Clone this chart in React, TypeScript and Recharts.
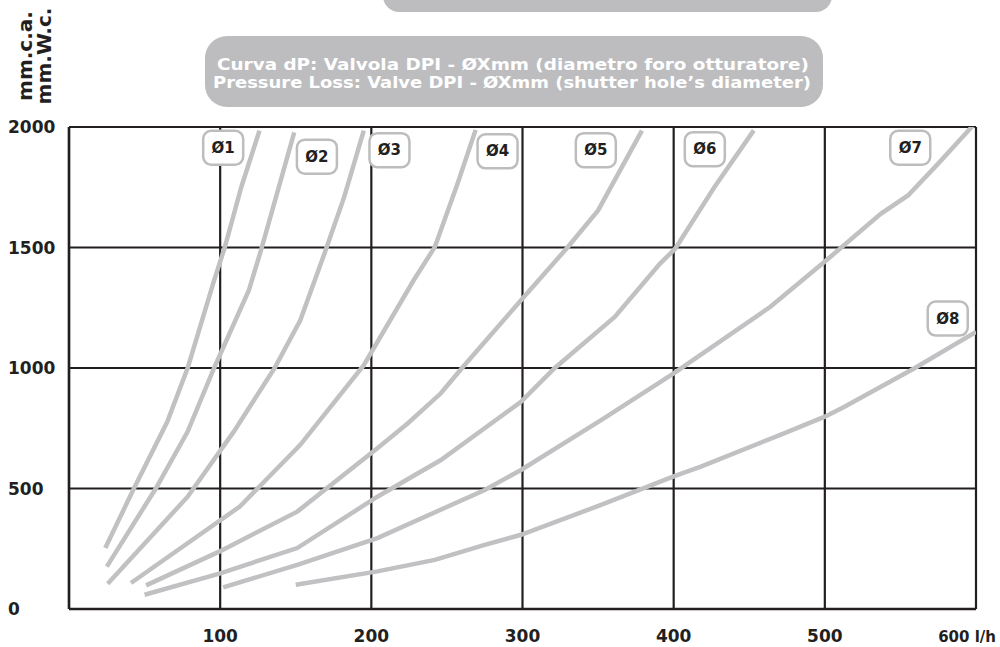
import { CartesianGrid, Line, LineChart, ReferenceDot, XAxis, YAxis } from "recharts";

// flow (l/h) vs pressure loss (mm.c.a.) for each shutter hole diameter
const curve1 = [[24, 253], [43, 501], [65, 777], [78.5, 1000], [96, 1364], [103, 1500], [114, 1751], [126, 1985]];
const curve2 = [[25, 176], [57.5, 501], [78.5, 736], [96, 1000], [119, 1323], [127, 1488], [149, 1978]];
const curve3 = [[25.6, 105], [78.5, 466], [109, 736], [136, 1000], [153, 1198], [169, 1475], [182, 1709], [195, 1985]];
const curve4 = [[41, 108], [113, 425], [153, 681], [195, 1012], [228, 1364], [242, 1502], [257, 1765], [269, 1988]];
const curve5 = [[51, 98], [100, 240], [151, 404], [204, 667], [224, 770], [246, 895], [260, 1000], [299, 1281], [330, 1502], [350, 1654], [379, 1985]];
const curve6 = [[50, 59], [100, 148], [151, 253], [204, 466], [246, 618], [299, 860], [321, 998], [361, 1212], [391, 1433], [401, 1495], [427, 1751], [453, 1986]];
const curve7 = [[102, 90], [151, 183], [204, 294], [275, 494], [299, 577], [352, 784], [400, 978], [464, 1254], [501, 1447], [537, 1640], [555, 1716], [575, 1848], [598, 2006]];
const curve8 = [[150, 101], [204, 156], [242, 204], [275, 266], [299, 308], [352, 432], [400, 550], [418, 591], [473, 729], [500, 798], [513, 839], [559, 998], [600, 1150]];

const curves = [curve1, curve2, curve3, curve4, curve5, curve6, curve7, curve8];

const labelNames = ["Ø1", "Ø2", "Ø3", "Ø4", "Ø5", "Ø6", "Ø7", "Ø8"];
const labelX = [102, 164, 212, 283.5, 348.5, 420.6, 556.5, 581.3];
const labelY = [1914, 1877, 1904, 1899, 1904, 1908, 1914, 1205];

const xTicks = [100, 200, 300, 400, 500, 600];
const yTicks = [0, 500, 1000, 1500, 2000];

const titleLines = [
  "Curva dP: Valvola DPI - ØXmm (diametro foro otturatore)",
  "Pressure Loss: Valve DPI - ØXmm (shutter hole’s diameter)",
];
const unitLines = ["mm.c.a.", "mm.W.c."];

const FONT = "DejaVu Sans";
const INK = "#231f20";
const CURVE = "#c1c1c3";

function XTick(props: any) {
  const { x, y, payload } = props;
  const last = payload.value === 600;
  return (
    <text
      x={last ? x + 20 : x}
      y={y + 25}
      textAnchor={last ? "end" : "middle"}
      fontFamily={FONT}
      fontWeight="bold"
      fontSize={last ? 15 : 17}
      fill={INK}
    >
      {last ? "600 l/h" : payload.value}
    </text>
  );
}

function YTick(props: any) {
  const { y, payload } = props;
  return (
    <text x={8} y={y + 6} textAnchor="start" fontFamily={FONT} fontWeight="bold" fontSize={17} fill={INK}>
      {payload.value}
    </text>
  );
}

function LabelBox(name: string) {
  return (props: any) => (
    <g>
      <rect
        x={props.cx - 20}
        y={props.cy - 17}
        width={40}
        height={34}
        rx={8}
        fill="#fff"
        stroke="#bdbdbd"
        strokeWidth={2.5}
      />
      <text
        x={props.cx}
        y={props.cy + 5}
        textAnchor="middle"
        fontFamily={FONT}
        fontWeight="bold"
        fontSize={15}
        fill={INK}
      >
        {name}
      </text>
    </g>
  );
}

export default function App() {
  return (
    <div style={{ position: "absolute", left: 0, top: 0, width: 1000, height: 647, background: "#fff" }}>
      <LineChart width={1000} height={647} margin={{ top: 127, right: 24, bottom: 0, left: 0 }}>
        <CartesianGrid stroke={INK} strokeWidth={2.2} />
        <XAxis
          type="number"
          dataKey="x"
          domain={[0, 600]}
          ticks={xTicks}
          height={38}
          tickLine={false}
          axisLine={{ stroke: INK, strokeWidth: 2.5 }}
          tick={<XTick />}
          allowDataOverflow
        />
        <YAxis
          type="number"
          domain={[0, 2000]}
          ticks={yTicks}
          width={69}
          tickLine={false}
          axisLine={{ stroke: INK, strokeWidth: 2.5 }}
          tick={<YTick />}
          allowDataOverflow
        />
        {curves.map((c, i) => (
          <Line
            key={i}
            data={c.map(([x, y]) => ({ x, y }))}
            dataKey="y"
            type="linear"
            stroke={CURVE}
            strokeWidth={4.5}
            dot={false}
            isAnimationActive={false}
          />
        ))}
        {labelNames.map((n, i) => (
          <ReferenceDot key={n} x={labelX[i]} y={labelY[i]} r={1} shape={LabelBox(n)} />
        ))}
      </LineChart>
      <svg
        width={1000}
        height={647}
        style={{ position: "absolute", left: 0, top: 0, pointerEvents: "none" }}
      >
        <rect x={383} y={-22} width={449} height={34} rx={16} fill="#bdbdbf" />
        <rect x={205} y={36} width={618} height={71} rx={22} fill="#bdbdbf" />
        <text x={513} y={70} textAnchor="middle" fontFamily={FONT} fontWeight="bold" fontSize={15} fill="#fff" textLength={592} lengthAdjust="spacingAndGlyphs">
          {titleLines[0]}
        </text>
        <text x={512} y={88} textAnchor="middle" fontFamily={FONT} fontWeight="bold" fontSize={15} fill="#fff" textLength={598} lengthAdjust="spacingAndGlyphs">
          {titleLines[1]}
        </text>
        {unitLines.map((t, i) => (
          <text
            key={t}
            transform={`translate(${32 + i * 19}, 56) rotate(-90)`}
            textAnchor="middle"
            fontFamily={FONT}
            fontWeight="bold"
            fontSize={20}
            fill={INK}
          >
            {t}
          </text>
        ))}
      </svg>
    </div>
  );
}
